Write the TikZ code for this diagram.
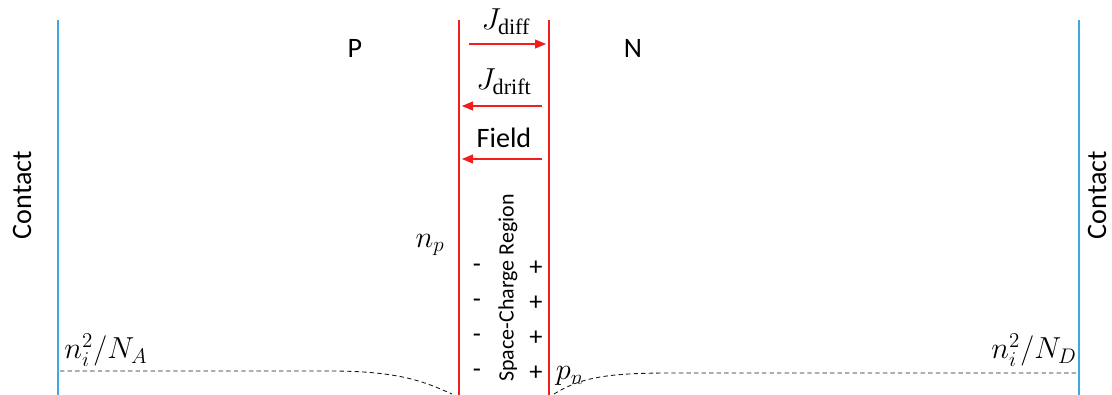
\documentclass[tikz,border=0pt]{standalone}
\usepackage{amsmath}
\usepackage{fontspec}
\setmainfont{Carlito}
\newfontfamily\subrm{Liberation Serif}
\usetikzlibrary{arrows.meta,positioning}
\definecolor{contactblue}{RGB}{60,170,225}
\definecolor{junctred}{RGB}{240,30,30}

\begin{document}
\begin{tikzpicture}[
  x=0.02cm, y=-0.02cm,
  font=\fontsize{16}{19}\selectfont,
  contact/.style={draw=contactblue, semithick},
  edge/.style={draw=junctred, semithick},
  flow/.style={-{Triangle[length=2.2mm,width=1.8mm]}, semithick, junctred},
  conc/.style={dash pattern=on 2.5pt off 1.8pt, line width=0.5pt, black!90},
  lbl/.style={inner sep=1pt},
  mathlbl/.style={inner sep=1pt, font=\fontsize{17}{20}\selectfont},
  charge/.style={inner sep=0pt, font=\fontsize{15}{18}\selectfont}
]
  \useasboundingbox (0,0) rectangle (1112,395);

  % contacts and junction edges
  \coordinate (ctl) at (58,20);   \coordinate (cbl) at (58,395);
  \coordinate (ctr) at (1079,20); \coordinate (cbr) at (1079,395);
  \coordinate (jtl) at (459,20);  \coordinate (jbl) at (459,395);
  \coordinate (jtr) at (549,20);  \coordinate (jbr) at (549,395);
  \draw[contact] (ctl) -- (cbl);
  \draw[contact] (ctr) -- (cbr);
  \draw[edge] (jtl) -- (jbl);
  \draw[edge] (jtr) -- (jbr);

  \node[lbl, rotate=90] (contl) at (22,195) {Contact};
  \node[lbl, rotate=90] (contr) at (1097,195) {Contact};
  \node[lbl] (preg) at (355,48) {P};
  \node[lbl] (nreg) at (633,48) {N};

  % currents and field
  \node[lbl, font=\fontsize{18}{20}\selectfont] (jdiff)  at (506,22)  {$J_{\text{\subrm diff}}$};
  \node[lbl, font=\fontsize{18}{20}\selectfont] (jdrift) at (504,82)  {$J_{\text{\subrm drift}}$};
  \node[lbl] (field) at (504,138) {Field};
  \coordinate (a1) at (469,44);  \coordinate (b1) at (546,44);
  \coordinate (a2) at (542,106); \coordinate (b2) at (462,106);
  \coordinate (a3) at (542,159); \coordinate (b3) at (462,159);
  \draw[flow] (a1) -- (b1);
  \draw[flow] (a2) -- (b2);
  \draw[flow] (a3) -- (b3);

  % space-charge region
  \node[lbl, rotate=90, font=\fontsize{12.5}{14}\selectfont] (scr) at (508,288) {Space-Charge Region};
  \foreach \i/\yy in {1/268,2/303,3/338,4/373}{
    \node[charge] (neg\i) at (477,\yy) {-};
    \node[charge] (pos\i) at (536,\yy) {+};
  }

  % carrier concentrations
  \node[mathlbl] (np)  at (430,245) {$n_p$};
  \node[mathlbl] (pn)  at (570,376) {$p_n$};
  \node[mathlbl] (nA)  at (106,350) {$n_i^2/N_A$};
  \node[mathlbl] (nD)  at (1034,350) {$n_i^2/N_D$};

  \coordinate (dl) at (60,371);  \coordinate (dle) at (452,394);
  \coordinate (dr) at (1077,373); \coordinate (dre) at (554,394);
  \draw[conc] (dl) -- (330,371) .. controls (400,371) and (425,382) .. (dle);
  \draw[conc] (dre) .. controls (580,378) and (605,373) .. (670,373) -- (dr);
\end{tikzpicture}
\end{document}
